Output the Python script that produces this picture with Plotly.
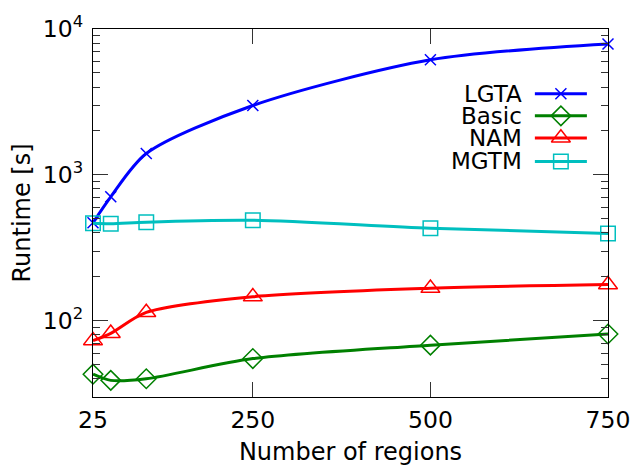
import plotly.graph_objects as go

regions = [25, 50, 100, 250, 500, 750]
lgta = [470, 707, 1400, 2990, 6150, 7900]
basic = [43, 39, 40, 55, 68, 81]
nam = [73, 82, 114, 146, 167, 177]
mgtm = [465, 462, 474, 488, 430, 397]

x_ticks = [25, 250, 500, 750]
y_ticks = [100, 1000, 10000]
y_tick_text = ["10<sup>2</sup>", "10<sup>3</sup>", "10<sup>4</sup>"]
y_minor = [40, 50, 60, 70, 80, 90, 200, 300, 400, 500, 600, 700, 800, 900,
           2000, 3000, 4000, 5000, 6000, 7000, 8000, 9000]

series = [
    ("LGTA", lgta, "#0000ff", "x-thin-open", 11),
    ("Basic", basic, "#008000", "diamond-open", 15),
    ("NAM", nam, "#ff0000", "triangle-up-open", 16.5),
    ("MGTM", mgtm, "#00bfbf", "square-open", 14.5),
]

FONT = "DejaVu Sans"
fig = go.Figure()

for name, vals, col, sym, sz in series:
    fig.add_trace(go.Scatter(
        x=regions, y=vals, mode="lines+markers", name=name,
        line=dict(color=col, width=3, shape="spline", smoothing=0.8),
        marker=dict(symbol=sym, size=sz, color=col, line=dict(color=col, width=1.5)),
        showlegend=False, cliponaxis=False,
    ))

# custom legend (text on left, sample on right) on an overlay axis in [0,1]
leg_y = [0.824, 0.764, 0.704, 0.640]
for (name, vals, col, sym, sz), ly in zip(series, leg_y):
    fig.add_trace(go.Scatter(
        x=[0.858, 0.959], y=[ly, ly], mode="lines", xaxis="x2", yaxis="y2",
        line=dict(color=col, width=3), showlegend=False, hoverinfo="skip",
    ))
    fig.add_trace(go.Scatter(
        x=[0.9085], y=[ly], mode="markers", xaxis="x2", yaxis="y2",
        marker=dict(symbol=sym, size=sz, color=col, line=dict(color=col, width=1.5)),
        showlegend=False, hoverinfo="skip",
    ))
    fig.add_annotation(
        x=0.836, y=ly, xref="x2", yref="y2", text=name, showarrow=False,
        xanchor="right", yanchor="middle", font=dict(family=FONT, size=23, color="black"),
    )

fig.update_layout(
    width=632, height=466,
    margin=dict(l=93, r=24, t=29, b=69, autoexpand=False),
    paper_bgcolor="white", plot_bgcolor="white",
    font=dict(family=FONT, size=23, color="black"),
    xaxis=dict(
        range=[25, 750], tickvals=x_ticks, ticks="inside", ticklen=15,
        tickcolor="#333", showline=True, linecolor="black", linewidth=1.3,
        mirror="allticks", showgrid=False, zeroline=False, automargin=False,
        tickfont=dict(family=FONT, size=23.5), ticklabelstandoff=2,
        title=dict(text="Number of regions", standoff=10, font=dict(family=FONT, size=24)),
    ),
    yaxis=dict(
        type="log", range=[1.477, 4.0], tickvals=y_ticks, ticktext=y_tick_text,
        ticks="inside", ticklen=15, tickcolor="#333",
        minor=dict(tickvals=y_minor, ticks="inside", ticklen=7, tickcolor="#333"),
        showline=True, linecolor="black", linewidth=1.3, mirror="allticks",
        showgrid=False, zeroline=False, automargin=False,
        tickfont=dict(family=FONT, size=23.5), ticklabelstandoff=4,
        title=dict(text="Runtime [s]", standoff=5, font=dict(family=FONT, size=24)),
    ),
    xaxis2=dict(range=[0, 1], overlaying="x", visible=False),
    yaxis2=dict(range=[0, 1], overlaying="y", visible=False),
)

fig.write_html("out.html")
